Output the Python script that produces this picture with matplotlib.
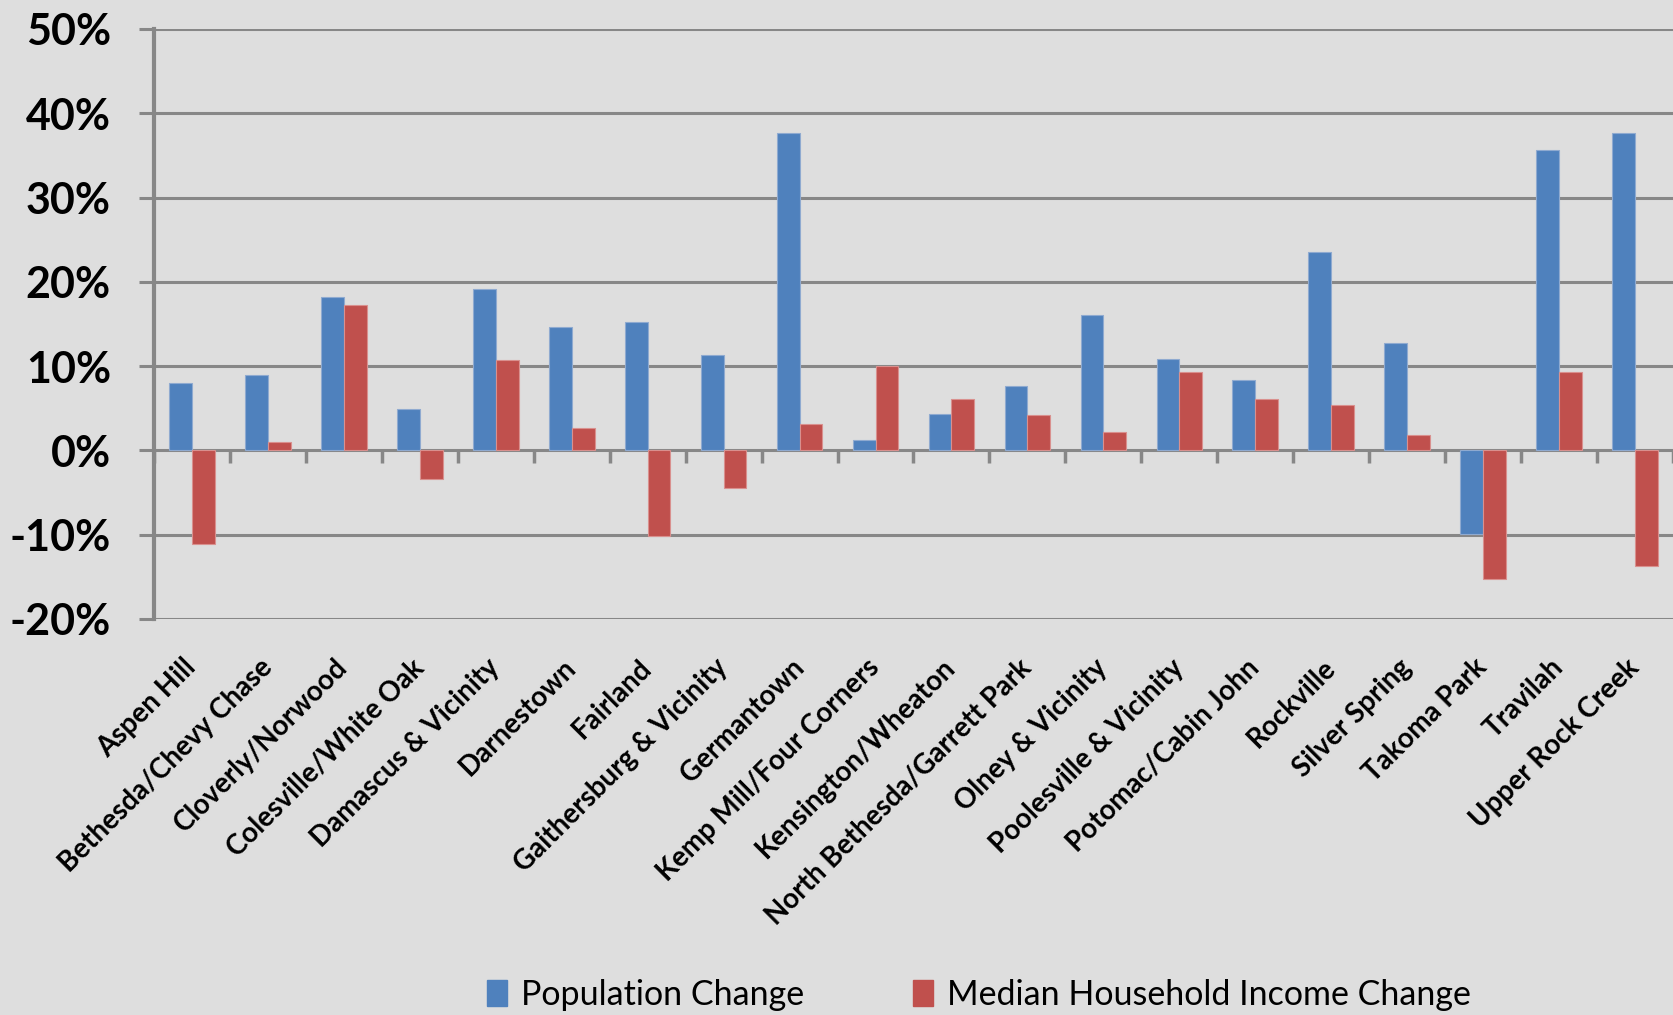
import matplotlib
matplotlib.use('Agg')
import matplotlib.pyplot as plt
import numpy as np
from matplotlib.patches import Patch

areas = ['Aspen Hill', 'Bethesda/Chevy Chase', 'Cloverly/Norwood', 'Colesville/White Oak',
         'Damascus & Vicinity', 'Darnestown', 'Fairland', 'Gaithersburg & Vicinity',
         'Germantown', 'Kemp Mill/Four Corners', 'Kensington/Wheaton',
         'North Bethesda/Garrett Park', 'Olney & Vicinity', 'Poolesville & Vicinity',
         'Potomac/Cabin John', 'Rockville', 'Silver Spring', 'Takoma Park', 'Travilah',
         'Upper Rock Creek']
pop_change = [8.0, 9.0, 18.2, 4.9, 19.2, 14.6, 15.2, 11.3, 37.7, 1.2,
              4.3, 7.7, 16.1, 10.9, 8.3, 23.6, 12.8, -9.9, 35.6, 37.7]
income_change = [-11.1, 1.0, 17.2, -3.4, 10.7, 2.7, -10.2, -4.5, 3.1, 10.0,
                 6.1, 4.2, 2.2, 9.3, 6.1, 5.4, 1.8, -15.2, 9.3, -13.7]
yticks = [-20, -10, 0, 10, 20, 30, 40, 50]

BLUE = '#4F81BD'
RED = '#C0504D'
GRID = '#878787'
BG = '#DEDEDE'

plt.rcParams['font.family'] = ['Lato', 'DejaVu Sans']

fig = plt.figure(figsize=(16.73, 10.15), dpi=100, facecolor=BG)
ax = fig.add_axes([154/1673, 1 - 619/1015, 1 - 154/1673, (619 - 29)/1015])
ax.set_facecolor(BG)

index = np.arange(len(areas))
width = 0.3
ax.bar(index - width/2, pop_change, width=width, color=BLUE, edgecolor='#8FAAD0', linewidth=0.8, zorder=3)
ax.bar(index + width/2, income_change, width=width, color=RED, edgecolor='#D9908E', linewidth=0.8, zorder=3)

ax.set_xlim(-0.5, len(areas) - 0.5)
ax.set_ylim(yticks[0], yticks[-1])
ax.set_yticks(yticks)
ax.set_yticklabels(['{}%'.format(v) for v in yticks], fontsize=31, fontweight='bold')
ax.yaxis.grid(True, color=GRID, linewidth=2.2, zorder=0)
ax.tick_params(axis='y', direction='out', length=11, width=2.2, color=GRID, pad=20)

for s in ['top', 'right', 'bottom']:
    ax.spines[s].set_visible(False)
ax.spines['left'].set_color(GRID)
ax.spines['left'].set_linewidth(3)

# category labels under the plot area
ax.set_xticks(index)
ax.set_xticklabels(areas, rotation=45, ha='right', va='center', rotation_mode='anchor',
                   fontsize=20, fontweight='bold')
ax.tick_params(axis='x', length=0, pad=32)

# category boundary ticks on the zero line
zero_pos = (0 - yticks[0]) / (yticks[-1] - yticks[0])
sec = ax.secondary_xaxis(zero_pos)
sec.set_xticks(np.arange(len(areas) + 1) - 0.5)
sec.set_xticklabels([])
sec.tick_params(direction='out', length=9, width=2.5, color=GRID)
sec.spines['bottom'].set_visible(False)

handles = [Patch(color=BLUE, label='Population Change'),
           Patch(color=RED, label='Median Household Income Change')]
fig.legend(handles=handles, loc='center', bbox_to_anchor=(0.585, 0.02), ncol=2, frameon=False,
           fontsize=24.5, handlelength=0.6, handleheight=0.8, handletextpad=0.4, columnspacing=3.2)

plt.savefig('out.png', dpi=100, facecolor=BG)
